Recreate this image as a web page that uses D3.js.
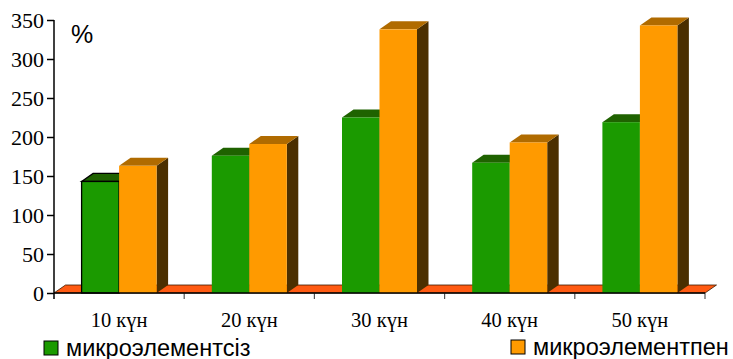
<!DOCTYPE html>
<html>
<head>
<meta charset="utf-8">
<script src="https://cdn.jsdelivr.net/npm/d3@7"></script>
<style>
  html, body { margin: 0; padding: 0; background: #fff; }
  svg { display: block; }
  .serif { font-family: 'Liberation Serif', 'Times New Roman', serif; }
  .sans { font-family: 'Liberation Sans', Arial, sans-serif; }
</style>
</head>
<body>
<svg id="chart" width="733" height="359"></svg>
<script>
// Categories (days) and the two series, in percent
const categories = ["10 күн", "20 күн", "30 күн", "40 күн", "50 күн"];
const seriesNames = ["микроэлементсіз", "микроэлементпен"];
const withoutMicro = [143, 176, 225, 167, 219];
const withMicro = [163, 191, 338, 193, 343];
const yTicks = [0, 50, 100, 150, 200, 250, 300, 350];

const plotLeft = 54, plotRight = 705, plotTop = 20, plotBottom = 293;
const depthX = 11.5, depthY = -8; // 3D extrusion offset

const palette = [
  { front: "#1b9a00", top: "#1f6200", side: "#0f4200" },
  { front: "#ff9a00", top: "#b06b00", side: "#4b2f00" }
];

const svg = d3.select("#chart");

const x0 = d3.scaleBand().domain(categories).range([plotLeft, plotRight])
  .paddingInner(0.424).paddingOuter(0.212);
const x1 = d3.scaleBand().domain(seriesNames).range([0, x0.bandwidth()]);
const y = d3.scaleLinear().domain([0, 350]).range([plotBottom, plotTop]);

const pts = arr => arr.map(p => p.join(",")).join(" ");

// Floor
const floor = [[plotLeft, plotBottom], [plotRight, plotBottom],
  [plotRight + depthX, plotBottom + depthY], [plotLeft + depthX, plotBottom + depthY]];
svg.append("polygon")
  .attr("points", pts(floor))
  .attr("fill", "#ff5a12").attr("stroke", "#3a1a00").attr("stroke-width", 0.8);

// Category separator ticks along the floor's front edge
const step = x0.step();
const sepX = d3.range(1, categories.length + 1).map(i => plotLeft + i * step);
svg.selectAll("line.xtick").data(sepX).join("line")
  .attr("class", "xtick")
  .attr("x1", d => d).attr("x2", d => d)
  .attr("y1", plotBottom).attr("y2", plotBottom + 6)
  .attr("stroke", "#555").attr("stroke-width", 1.2);

// Bars
const seriesData = [withoutMicro, withMicro];
categories.forEach((c, ci) => {
  seriesData.forEach((vals, si) => {
    const v = vals[ci];
    const x = x0(c) + x1(seriesNames[si]);
    const w = x1.bandwidth();
    const yt = y(v), yb = y(0);
    const col = palette[si];
    const outlined = (ci === 0 && si === 0);
    const g = svg.append("g");
    g.append("polygon")
      .attr("points", pts([[x + w, yt], [x + w + depthX, yt + depthY], [x + w + depthX, yb + depthY], [x + w, yb]]))
      .attr("fill", col.side);
    g.append("polygon")
      .attr("points", pts([[x, yt], [x + depthX, yt + depthY], [x + w + depthX, yt + depthY], [x + w, yt]]))
      .attr("fill", col.top)
      .attr("stroke", outlined ? "#000" : "none").attr("stroke-width", 1.3);
    g.append("rect")
      .attr("x", x).attr("y", yt).attr("width", w).attr("height", yb - yt)
      .attr("fill", col.front)
      .attr("stroke", outlined ? "#000" : "none").attr("stroke-width", 1.3);
  });
});

// Front axis line
svg.append("line")
  .attr("x1", plotLeft).attr("x2", plotRight).attr("y1", plotBottom).attr("y2", plotBottom)
  .attr("stroke", "#000").attr("stroke-width", 1.5);

// Y axis: tick marks from the axis generator, labels set in serif
const yAxis = d3.axisLeft(y).tickValues(yTicks).tickSize(7).tickFormat("");
const ya = svg.append("g").attr("transform", `translate(${plotLeft},0)`).call(yAxis);
ya.select(".domain").remove();
ya.selectAll(".tick line").attr("stroke", "#000").attr("stroke-width", 1.5);
svg.selectAll("text.ylab").data(yTicks).join("text")
  .attr("class", "ylab serif")
  .attr("x", plotLeft - 10)
  .attr("y", d => y(d) + 7.5)
  .attr("text-anchor", "end")
  .style("font-size", "22px").attr("fill", "#000")
  .text(d => d);
svg.append("line")
  .attr("x1", plotLeft).attr("x2", plotLeft).attr("y1", plotTop).attr("y2", plotBottom + 6)
  .attr("stroke", "#000").attr("stroke-width", 1.5);

// Category labels
svg.selectAll("text.xlab").data(categories).join("text")
  .attr("class", "xlab serif")
  .attr("x", d => x0(d) + x0.bandwidth() / 2)
  .attr("y", 327)
  .attr("text-anchor", "middle")
  .style("font-size", "20.5px").attr("fill", "#000")
  .text(d => d);

// Unit label
svg.append("text")
  .attr("class", "sans")
  .attr("x", 71).attr("y", 43)
  .style("font-size", "25px").attr("fill", "#000")
  .text("%");

// Legend
const legendPos = [{ x: 44, y: 341 }, { x: 511, y: 340 }];
seriesNames.forEach((name, i) => {
  const p = legendPos[i];
  svg.append("rect")
    .attr("x", p.x).attr("y", p.y).attr("width", 14).attr("height", 14)
    .attr("fill", palette[i].front).attr("stroke", "#000").attr("stroke-width", 1);
  svg.append("text")
    .attr("class", "sans")
    .attr("x", p.x + 22).attr("y", p.y + 14.5)
    .style("font-size", "23.5px").attr("fill", "#000")
    .text(name);
});
</script>
</body>
</html>
